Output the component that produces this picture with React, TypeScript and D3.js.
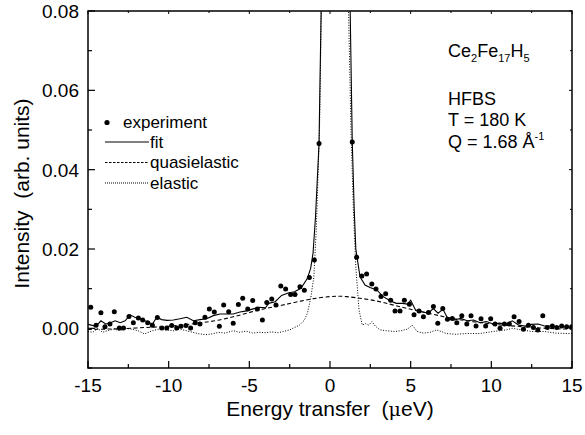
import React from 'react';
import * as d3 from 'd3';

// ---- data ----
const expX = [-14.83, -14.5, -14.2, -13.95, -13.64, -13.37, -13.06, -12.8, -12.46, -12.19, -11.88, -11.61, -11.3, -11.01, -10.7, -10.43, -10.12, -9.81, -9.5, -9.24, -8.93, -8.64, -8.35, -8.06, -7.75, -7.48, -7.17, -6.86, -6.59, -6.28, -6.0, -5.68, -5.41, -5.1, -4.79, -4.5, -4.19, -3.92, -3.61, -3.35, -3.05, -2.75, -2.44, -2.17, -1.86, -1.59, -1.28, -0.97, -0.68,
  1.38, 1.65, 1.97, 2.27, 2.59, 2.85, 3.16, 3.45, 3.76, 4.03, 4.34, 4.61, 4.92, 5.21, 5.52, 5.79, 6.1, 6.41, 6.68, 6.99, 7.28, 7.58, 7.86, 8.17, 8.48, 8.74, 9.05, 9.36, 9.65, 9.96, 10.23, 10.54, 10.81, 11.12, 11.41, 11.72, 11.99, 12.3, 12.61, 12.88, 13.19, 13.47, 13.78, 14.05, 14.36, 14.67, 14.98];
const expY = [0.0053, 0.0008, 0.0039, 0.0004, 0.0011, 0.0042, 0.0001, 0.0001, 0.0030, 0.0014, 0.0026, 0.0021, 0.0014, 0.0008, 0.0027, 0.0001, 0.0001, 0.0007, 0.0001, 0.0005, 0.0007, 0.0001, 0.0014, 0.0011, 0.0028, 0.0049, 0.0041, 0.0005, 0.0059, 0.0042, 0.0013, 0.0060, 0.0076, 0.0049, 0.0070, 0.0049, 0.0021, 0.0065, 0.0074, 0.0059, 0.0107, 0.0099, 0.0085, 0.0085, 0.0105, 0.0096, 0.0128, 0.0172, 0.0466,
  0.0470, 0.0179, 0.0132, 0.0137, 0.0112, 0.0099, 0.0080, 0.0087, 0.0071, 0.0044, 0.0044, 0.0071, 0.0061, 0.0034, 0.0044, 0.0029, 0.0040, 0.0055, 0.0013, 0.0050, 0.0023, 0.0025, 0.0014, 0.0032, 0.0011, 0.0032, 0.0006, 0.0024, 0.0006, 0.0024, 0.0011, 0.0000, 0.0011, 0.0011, 0.0029, 0.0017, -0.0002, 0.0008, 0.0002, -0.0004, 0.0032, 0.0002, 0.0006, 0.0002, 0.0006, 0.0004, 0.0004];

const fitX = [-15, -14.5, -14.2, -13.9, -13.6, -13.32, -13.0, -12.7, -12.39, -12.1, -11.77, -11.36, -11.0, -10.74, -10.43, -10.1, -9.71, -9.3, -8.88, -8.47, -8.06, -7.65, -7.23, -6.82, -6.41, -6.0, -5.58, -5.17, -4.76, -4.4, -4.0, -3.8, -3.4, -3.0, -2.6, -2.2, -1.8, -1.4, -1.2, -1.05, -0.9, -0.68, -0.55, -0.4, 0.3, 1.0, 1.25, 1.38, 1.5, 1.6, 1.86, 2.17, 2.48, 2.9, 3.3, 3.7, 4.1, 4.5, 4.8, 5.0, 5.3, 5.7, 6.1, 6.4, 6.7, 7.0, 7.3, 7.7, 8.1, 8.5, 8.9, 9.3, 9.7, 10.1, 10.5, 10.9, 11.3, 11.7, 12.1, 12.5, 12.9, 13.3, 13.7, 14.0, 14.4, 15.0];
const fitY = [0.0010, 0.0005, 0.0019, 0.0011, 0.0014, 0.0019, 0.0014, 0.0019, 0.0034, 0.0028, 0.0024, 0.0017, 0.0011, 0.0028, 0.0022, 0.0020, 0.0021, 0.0024, 0.0028, 0.0019, 0.0022, 0.0024, 0.0032, 0.0036, 0.0036, 0.0036, 0.0041, 0.0044, 0.0049, 0.0053, 0.0052, 0.0063, 0.0067, 0.0083, 0.0089, 0.0092, 0.0101, 0.0126, 0.0151, 0.019, 0.028, 0.0466, 0.080, 0.200, 0.400, 0.200, 0.080, 0.047, 0.030, 0.020, 0.0130, 0.0109, 0.0103, 0.0097, 0.0080, 0.0070, 0.0063, 0.0063, 0.0061, 0.0071, 0.0046, 0.0042, 0.0038, 0.0050, 0.0038, 0.0048, 0.0025, 0.0021, 0.0025, 0.0019, 0.0021, 0.0014, 0.0017, 0.0011, 0.0013, 0.0011, 0.0019, 0.0008, 0.0006, 0.0010, 0.0011, 0.0006, 0.0006, 0.0004, 0.0004, 0.0003];

const quasiX = [-15, -14, -13, -12, -11, -10, -9, -8, -7, -6, -5, -4, -3, -2, -1, 0, 0.5, 1, 2, 3, 4, 5, 6, 7, 8, 9, 10, 11, 12, 13, 14, 15];
const quasiY = [-0.0003, -0.0002, -0.0001, 0.0001, 0.0003, 0.0005, 0.0009, 0.0014, 0.0020, 0.0029, 0.0040, 0.0050, 0.0058, 0.0067, 0.0075, 0.0080, 0.0081, 0.0080, 0.0075, 0.0068, 0.0058, 0.0048, 0.0039, 0.0030, 0.0022, 0.0016, 0.0011, 0.0007, 0.0004, 0.0001, -0.0001, -0.0002];

const elasticX = [-15, -14.7, -14.4, -14.1, -13.8, -13.4, -13.0, -12.7, -12.3, -11.9, -11.5, -11.0, -10.6, -10.2, -9.7, -9.3, -8.9, -8.5, -8.1, -7.7, -7.3, -6.9, -6.5, -6.0, -5.6, -5.2, -4.8, -4.4, -4.0, -3.6, -3.2, -2.8, -2.5, -2.2, -1.9, -1.6, -1.4, -1.2, -1.0, -0.85, -0.65, -0.5, -0.3, 0.3, 0.9, 1.1, 1.3, 1.45, 1.6, 1.8, 2.0, 2.2, 2.4, 2.6, 2.8, 3.1, 3.5, 4.0, 4.4, 4.8, 5.1, 5.4, 5.8, 6.2, 6.6, 6.9, 7.2, 7.8, 8.5, 9.3, 10.1, 10.9, 11.3, 11.9, 12.5, 13.3, 14.0, 14.6, 15];
const elasticY = [-0.0008, -0.0010, 0.0000, -0.0010, -0.0006, -0.0002, -0.0006, 0.0000, -0.0002, -0.0006, -0.0014, -0.0006, -0.0002, -0.0004, -0.0006, -0.0002, -0.0006, -0.0010, -0.0014, -0.0016, -0.0014, -0.0010, -0.0012, -0.0006, -0.0010, -0.0007, -0.0012, -0.0010, -0.0011, -0.0009, -0.0011, -0.0007, -0.0004, 0.0002, 0.0008, 0.0020, 0.0038, 0.0075, 0.013, 0.025, 0.050, 0.090, 0.300, 0.400, 0.300, 0.090, 0.050, 0.030, 0.0155, 0.0046, 0.0008, 0.0012, 0.0008, 0.0017, 0.0006, -0.0004, -0.0006, -0.0008, -0.0006, -0.0002, 0.0008, -0.0008, -0.0012, -0.0010, -0.0004, -0.0008, -0.0013, -0.0015, -0.0013, -0.0013, -0.0008, -0.0004, 0.0000, -0.0004, -0.0008, -0.0008, -0.0012, -0.0013, -0.0013];

const xMajor = [-15, -10, -5, 0, 5, 10, 15];
const xMinor = [-12.5, -7.5, -2.5, 2.5, 7.5, 12.5];
const yMajor = [0, 0.02, 0.04, 0.06, 0.08];
const yMinor = [-0.01, 0.01, 0.03, 0.05, 0.07];
const legendLabels = ['experiment', 'fit', 'quasielastic', 'elastic'];

const FONT = '"Liberation Sans", Arial, Helvetica, sans-serif';

export default function App() {
  const L = 88, R = 572, T = 11, B = 368;
  const x = d3.scaleLinear().domain([-15, 15]).range([L, R]);
  const y = d3.scaleLinear().domain([-0.01, 0.08]).range([B, T]);

  const mk = (xs: number[], ys: number[]) => xs.map((v, i) => [v, ys[i]] as [number, number]);
  const lineLin = d3.line<[number, number]>().x(d => x(d[0])).y(d => y(d[1]));
  const lineSmooth = d3.line<[number, number]>().x(d => x(d[0])).y(d => y(d[1])).curve(d3.curveCatmullRom);

  const fitPath = lineLin(mk(fitX, fitY)) || '';
  const quasiPath = lineSmooth(mk(quasiX, quasiY)) || '';
  const elasticPath = lineLin(mk(elasticX, elasticY)) || '';

  return (
    <svg width={585} height={435} style={{ position: 'absolute', left: 0, top: 0, background: '#fff' }} fontFamily={FONT}>
      <defs>
        <clipPath id="plot">
          <rect x={L} y={T} width={R - L} height={B - T} />
        </clipPath>
      </defs>
      <rect x={0} y={0} width={585} height={435} fill="#fff" />

      <g clipPath="url(#plot)">
        <path d={elasticPath} fill="none" stroke="#000" strokeWidth={1} strokeDasharray="1,1.6" />
        <path d={quasiPath} fill="none" stroke="#000" strokeWidth={1.1} strokeDasharray="4,2.5" />
        <path d={fitPath} fill="none" stroke="#000" strokeWidth={1.1} />
        {expX.map((v, i) => (
          <circle key={i} cx={x(v)} cy={y(expY[i])} r={2.5} fill="#000" />
        ))}
      </g>

      {/* frame */}
      <rect x={L} y={T} width={R - L} height={B - T} fill="none" stroke="#000" strokeWidth={1.5} />

      {/* x ticks */}
      {xMajor.map(t => (
        <g key={'xM' + t}>
          <line x1={x(t)} x2={x(t)} y1={B} y2={B - 7} stroke="#000" strokeWidth={1.2} />
          <line x1={x(t)} x2={x(t)} y1={T} y2={T + 3} stroke="#000" strokeWidth={1} />
          <text x={x(t)} y={392} textAnchor="middle" fontSize={19}>{t}</text>
        </g>
      ))}
      {xMinor.map(t => (
        <g key={'xm' + t}>
          <line x1={x(t)} x2={x(t)} y1={B} y2={B - 4} stroke="#000" strokeWidth={1.2} />
          <line x1={x(t)} x2={x(t)} y1={T} y2={T + 2} stroke="#000" strokeWidth={1} />
        </g>
      ))}
      {/* y ticks */}
      {yMajor.map(t => (
        <g key={'yM' + t}>
          <line x1={L} x2={L + 7} y1={y(t)} y2={y(t)} stroke="#000" strokeWidth={1.2} />
          <line x1={R} x2={R - 3} y1={y(t)} y2={y(t)} stroke="#000" strokeWidth={1} />
          <text x={79} y={y(t) + 7} textAnchor="end" fontSize={19}>{d3.format('.2f')(t)}</text>
        </g>
      ))}
      {yMinor.map(t => (
        <g key={'ym' + t}>
          <line x1={L} x2={L + 4} y1={y(t)} y2={y(t)} stroke="#000" strokeWidth={1.2} />
          <line x1={R} x2={R - 2} y1={y(t)} y2={y(t)} stroke="#000" strokeWidth={1} />
        </g>
      ))}

      {/* axis titles */}
      <text x={(L + R) / 2} y={416} textAnchor="middle" fontSize={21} xmlSpace="preserve">
        {'Energy transfer  ('}<tspan fontFamily='"DejaVu Serif", serif' fontSize={19}>μ</tspan>{'eV)'}
      </text>
      <text transform={`translate(29,${(T + B) / 2 + 4}) rotate(-90)`} textAnchor="middle" fontSize={21} xmlSpace="preserve">
        {'Intensity  (arb. units)'}
      </text>

      {/* legend */}
      <circle cx={107} cy={122.5} r={2.6} fill="#000" />
      <text x={123} y={128} fontSize={17}>{legendLabels[0]}</text>
      <line x1={105} x2={149} y1={142} y2={142} stroke="#000" strokeWidth={1.1} />
      <text x={150} y={148} fontSize={17}>{legendLabels[1]}</text>
      <line x1={105} x2={149} y1={162.5} y2={162.5} stroke="#000" strokeWidth={1.1} strokeDasharray="2.5,1.5" />
      <text x={150} y={168} fontSize={17}>{legendLabels[2]}</text>
      <line x1={105} x2={149} y1={183} y2={183} stroke="#000" strokeWidth={1} strokeDasharray="1,1" />
      <text x={150} y={189} fontSize={17}>{legendLabels[3]}</text>

      {/* annotation */}
      <text x={448} y={57} fontSize={18}>
        Ce<tspan fontSize={11} dy={5}>2</tspan><tspan dy={-5}>Fe</tspan><tspan fontSize={11} dy={5}>17</tspan><tspan dy={-5}>H</tspan><tspan fontSize={11} dy={5}>5</tspan>
      </text>
      <text x={448} y={105} fontSize={18}>HFBS</text>
      <text x={448} y={126} fontSize={18}>T = 180 K</text>
      <text x={448} y={148} fontSize={18}>
        Q = 1.68 Å<tspan fontSize={11} dy={-8}>-1</tspan>
      </text>
    </svg>
  );
}
